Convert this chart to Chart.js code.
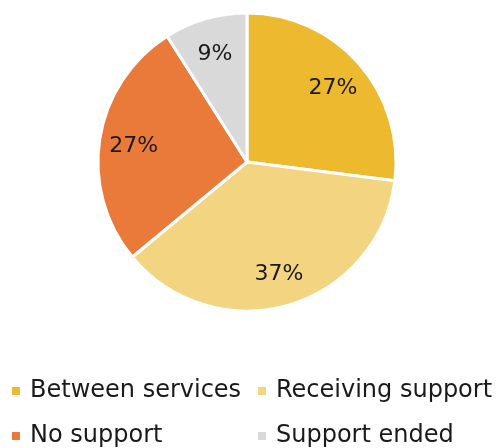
<!DOCTYPE html>
<html>
<head>
<meta charset="utf-8">
<script src="https://cdn.jsdelivr.net/npm/chart.js@4/dist/chart.umd.min.js"></script>
<style>
  html, body { margin: 0; padding: 0; background: #ffffff; }
  #wrap { position: relative; width: 498px; height: 448px; }
</style>
</head>
<body>
<div id="wrap"><canvas id="c" width="498" height="448"></canvas></div>
<script>
const categories = ['Between services', 'Receiving support', 'No support', 'Support ended'];
const shares = [27, 37, 27, 9];
const colors = ['#EDB92E', '#F3D480', '#E97A3A', '#D9D9D9'];

const FONT = '"DejaVu Sans", sans-serif';
const TEXT_COLOR = '#1a1a1a';

// Percentage labels placed inside each slice
const sliceLabels = {
  id: 'sliceLabels',
  afterDatasetsDraw(chart) {
    const ctx = chart.ctx;
    const meta = chart.getDatasetMeta(0);
    ctx.save();
    ctx.font = '22px ' + FONT;
    ctx.fillStyle = TEXT_COLOR;
    ctx.textAlign = 'center';
    ctx.textBaseline = 'middle';
    meta.data.forEach((arc, i) => {
      const p = arc.getProps(['x', 'y', 'startAngle', 'endAngle', 'outerRadius'], true);
      const mid = (p.startAngle + p.endAngle) / 2;
      const r = p.outerRadius * 0.77;
      ctx.fillText(shares[i] + '%', p.x + Math.cos(mid) * r, p.y + Math.sin(mid) * r + 2);
    });
    ctx.restore();
  }
};

// Two-column legend below the pie
const gridLegend = {
  id: 'gridLegend',
  afterDraw(chart) {
    const ctx = chart.ctx;
    const colX = [12, 258];
    const rowY = [391, 436];
    ctx.save();
    ctx.font = '24px ' + FONT;
    ctx.textBaseline = 'middle';
    ctx.textAlign = 'left';
    categories.forEach((name, i) => {
      const x = colX[i % 2];
      const y = rowY[Math.floor(i / 2)];
      ctx.fillStyle = colors[i];
      ctx.fillRect(x, y - 4, 8, 8);
      ctx.fillStyle = TEXT_COLOR;
      ctx.fillText(name, x + 18, y);
    });
    ctx.restore();
  }
};

new Chart(document.getElementById('c'), {
  type: 'pie',
  data: {
    labels: categories,
    datasets: [{
      data: shares,
      backgroundColor: colors,
      borderColor: '#ffffff',
      borderWidth: 3,
      radius: 149
    }]
  },
  options: {
    responsive: false,
    animation: false,
    layout: { padding: { left: 0, right: 4, top: 12, bottom: 136 } },
    plugins: {
      legend: { display: false },
      tooltip: { enabled: false }
    }
  },
  plugins: [sliceLabels, gridLegend]
});
</script>
</body>
</html>
